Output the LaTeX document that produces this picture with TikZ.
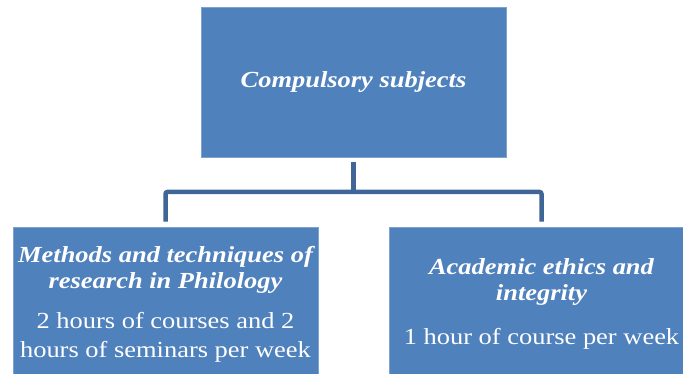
\documentclass[tikz,border=0pt]{standalone}
\usepackage{fontspec}
\setmainfont[FakeStretch=1.15]{Liberation Serif}
\definecolor{boxblue}{HTML}{4F81BD}
\definecolor{edgeblue}{HTML}{7DA2CE}
\definecolor{connblue}{HTML}{3F6696}
\tikzset{
  box/.style={rectangle, fill=boxblue, draw=edgeblue, line width=0.8pt, inner sep=0pt, minimum width=305pt, minimum height=150pt},
  head/.style={text=white, font=\fontsize{23}{25}\selectfont\bfseries\itshape, inner sep=0pt, anchor=base},
  body/.style={text=white, font=\fontsize{23}{29}\selectfont, inner sep=0pt, anchor=base},
  conn/.style={draw=connblue, line width=4.5pt, rounded corners=2pt}
}
\begin{document}
\begin{tikzpicture}[x=1pt,y=-1pt]
\useasboundingbox (0,0) rectangle (683,374);
\clip (0,0) rectangle (683,374);
\node[box] (top) at (353.5,82) {};
\node[box] (left) at (165.5,302) {};
\node[box] (right) at (541.5,302) {};
\node[head] (t1) at (353.5,88) {Compulsory subjects};
\node[head] (l1) at (165.5,263) {Methods and techniques of};
\node[head] (l2) at (165.5,288) {research in Philology};
\node[body] (l3) at (165.5,328) {2 hours of courses and 2};
\node[body] (l4) at (165.5,357) {hours of seminars per week};
\node[head] (r1) at (541.5,275) {Academic ethics and};
\node[head] (r2) at (541.5,300) {integrity};
\node[body] (r3) at (541.5,344) {1 hour of course per week};
\coordinate (bar) at (353.5,192);
\draw[conn] ([yshift=-5pt]top.south) -- (bar);
\draw[conn] ([yshift=5pt]left.north) |- (bar) -| ([yshift=5pt]right.north);
\end{tikzpicture}
\end{document}
